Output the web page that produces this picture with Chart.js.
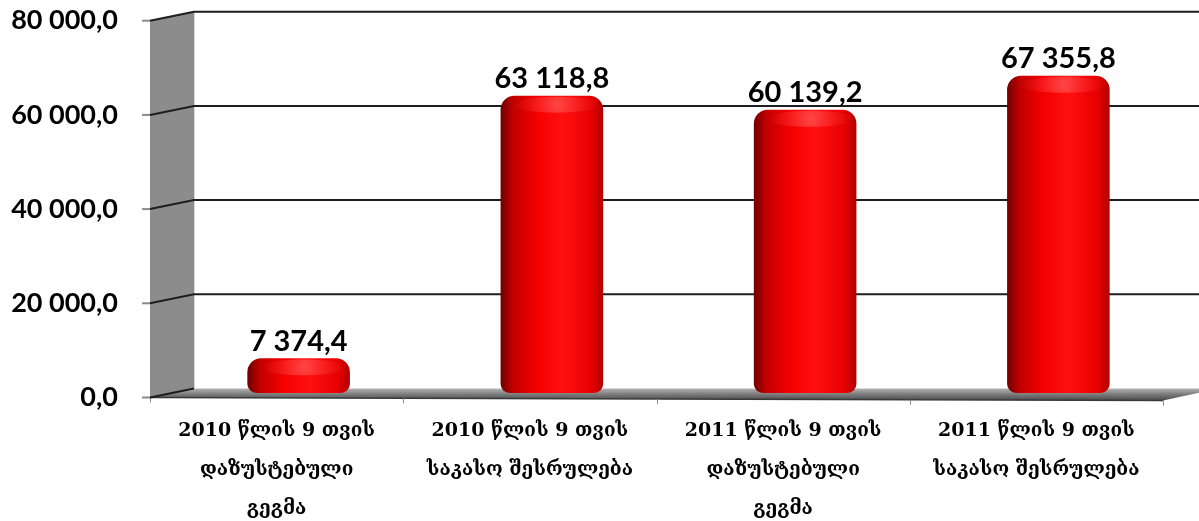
<!DOCTYPE html>
<html lang="ka">
<head>
<meta charset="utf-8">
<title>9 თვის შესრულება</title>
<script src="https://cdn.jsdelivr.net/npm/chart.js@4/dist/chart.umd.min.js"></script>
<style>
    html, body { margin: 0; padding: 0; background: #fff; }
    #wrap { width: 1199px; height: 521px; }
</style>
</head>
<body>
<div id="wrap"><canvas id="budgetChart" width="1199" height="521"></canvas></div>
<script>
// 카테고리 / 값
const categories = [
    ['2010 წლის 9 თვის', 'დაზუსტებული', 'გეგმა'],
    ['2010 წლის 9 თვის', 'საკასო შესრულება'],
    ['2011 წლის 9 თვის', 'დაზუსტებული', 'გეგმა'],
    ['2011 წლის 9 თვის', 'საკასო შესრულება']
];
const values = [7374.4, 63118.8, 60139.2, 67355.8];
const yMin = 0;
const yMax = 80000;
const yStep = 20000;

// 3D depth (half of the wall thickness)
const DEPTH_X = 22;
const DEPTH_Y = 4.5;
const BAR_PCT = 0.405;
const NUM_FONT = '"Lato", "Open Sans", sans-serif';

/**
 * 80 000,0 style number
 */
function formatNum(v) {
    const parts = v.toFixed(1).split('.');
    return parts[0].replace(/\B(?=(\d{3})+(?!\d))/g, ' ') + ',' + parts[1];
}

/**
 * horizontal shading across a bar so it reads as a cylinder
 */
function cylinderFill(context) {
    const chart = context.chart;
    const x = chart.scales.x;
    if (!x || !chart.chartArea) return '#f00000';
    const cx = x.getPixelForValue(context.dataIndex);
    const w = (x.width / categories.length) * BAR_PCT;
    const g = chart.ctx.createLinearGradient(cx - w / 2, 0, cx + w / 2, 0);
    g.addColorStop(0, '#6e0000');
    g.addColorStop(0.12, '#c00000');
    g.addColorStop(0.35, '#f40000');
    g.addColorStop(0.6, '#ff1010');
    g.addColorStop(0.88, '#e80000');
    g.addColorStop(1, '#b00000');
    return g;
}

// wall, floor and back gridlines
const wallPlugin = {
    id: 'wall3d',
    beforeDatasetsDraw(chart) {
        const { ctx, chartArea, scales } = chart;
        const y = scales.y;
        const x = scales.x;
        const fl = chartArea.left - DEPTH_X;   // front-left
        const bl = chartArea.left + DEPTH_X;   // back-left
        const yTop = y.getPixelForValue(yMax);
        const yBot = y.getPixelForValue(yMin);
        ctx.save();

        // left wall
        ctx.fillStyle = '#8c8c8c';
        ctx.beginPath();
        ctx.moveTo(fl, yTop + DEPTH_Y);
        ctx.lineTo(bl, yTop - DEPTH_Y);
        ctx.lineTo(bl, yBot - DEPTH_Y);
        ctx.lineTo(fl, yBot + DEPTH_Y);
        ctx.closePath();
        ctx.fill();
        ctx.strokeStyle = '#d8d8d8';
        ctx.lineWidth = 1;
        ctx.beginPath();
        ctx.moveTo(bl + 0.5, yTop - DEPTH_Y);
        ctx.lineTo(bl + 0.5, yBot - DEPTH_Y);
        ctx.stroke();

        // floor
        const frontRight = x.right - DEPTH_X;
        const g = ctx.createLinearGradient(0, yBot - DEPTH_Y, 0, yBot + DEPTH_Y + 3);
        g.addColorStop(0, '#b4b4b4');
        g.addColorStop(0.5, '#7a7a7a');
        g.addColorStop(1, '#4a4a4a');
        ctx.fillStyle = g;
        ctx.beginPath();
        ctx.moveTo(fl, yBot + DEPTH_Y);
        ctx.lineTo(bl, yBot - DEPTH_Y);
        ctx.lineTo(chart.width + 20, yBot - DEPTH_Y);
        ctx.lineTo(frontRight, yBot + DEPTH_Y + 3);
        ctx.closePath();
        ctx.fill();
        ctx.strokeStyle = '#3a3a3a';
        ctx.lineWidth = 1.5;
        ctx.beginPath();
        ctx.moveTo(fl, yBot + DEPTH_Y);
        ctx.lineTo(frontRight, yBot + DEPTH_Y + 3);
        ctx.stroke();

        // category ticks along the floor edge
        ctx.strokeStyle = '#8a8a8a';
        ctx.lineWidth = 1;
        for (let i = 0; i <= categories.length; i++) {
            const px = x.left + (x.width / categories.length) * i - DEPTH_X;
            const py = yBot + DEPTH_Y + 3 * (i / categories.length);
            ctx.beginPath();
            ctx.moveTo(Math.round(px) + 0.5, py);
            ctx.lineTo(Math.round(px) + 0.5, py + 5);
            ctx.stroke();
        }

        // gridlines: tick on the front, slant over the wall, line on the back
        for (let v = yMin; v <= yMax; v += yStep) {
            const py = y.getPixelForValue(v);
            ctx.strokeStyle = '#8a8a8a';
            ctx.lineWidth = 2;
            ctx.beginPath();
            ctx.moveTo(fl - 8, py + DEPTH_Y);
            ctx.lineTo(fl, py + DEPTH_Y);
            ctx.stroke();
            ctx.strokeStyle = '#1e1e1e';
            ctx.lineWidth = 2;
            ctx.beginPath();
            ctx.moveTo(fl, py + DEPTH_Y);
            ctx.lineTo(bl, py - DEPTH_Y);
            if (v !== yMin) ctx.lineTo(chart.width, py - DEPTH_Y);
            ctx.stroke();
        }
        ctx.restore();
    },
    afterDatasetsDraw(chart) {
        const { ctx } = chart;
        const meta = chart.getDatasetMeta(0);
        ctx.save();
        meta.data.forEach((bar, i) => {
            const w = bar.width;
            // lighter cap on top of the cylinder
            const capY = bar.y + 9;
            const rg = ctx.createRadialGradient(bar.x + w * 0.05, capY, 2, bar.x + w * 0.05, capY, w * 0.42);
            rg.addColorStop(0, 'rgba(255,110,110,0.55)');
            rg.addColorStop(1, 'rgba(255,60,60,0)');
            ctx.fillStyle = rg;
            ctx.beginPath();
            ctx.ellipse(bar.x + w * 0.05, capY, w * 0.42, 8, 0, 0, Math.PI * 2);
            ctx.fill();

            // value label
            ctx.fillStyle = '#000';
            ctx.font = 'bold 29px ' + NUM_FONT;
            ctx.textAlign = 'center';
            ctx.textBaseline = 'middle';
            ctx.fillText(formatNum(values[i]), bar.x, bar.y - 17);
        });
        ctx.restore();
    }
};

function initChart() {
    const ctx = document.getElementById('budgetChart').getContext('2d');
    return new Chart(ctx, {
        type: 'bar',
        data: {
            labels: categories,
            datasets: [{
                data: values,
                backgroundColor: cylinderFill,
                borderWidth: 0,
                borderSkipped: false,
                borderRadius: { topLeft: 14, topRight: 14, bottomLeft: 9, bottomRight: 9 },
                barPercentage: BAR_PCT,
                categoryPercentage: 1
            }]
        },
        options: {
            responsive: false,
            animation: false,
            layout: { padding: { top: 16, right: 14, bottom: 0, left: 0 } },
            plugins: {
                legend: { display: false },
                tooltip: { enabled: false }
            },
            scales: {
                x: {
                    grid: { display: false, drawTicks: false },
                    border: { display: false },
                    afterFit(scale) { scale.height = 128; },
                    ticks: {
                        color: '#000',
                        padding: 19,
                        labelOffset: -DEPTH_X,
                        maxRotation: 0,
                        autoSkip: false,
                        font: { family: '"DejaVu Serif", "DejaVu Sans", serif', size: 19, weight: 'bold', lineHeight: 2.05 }
                    }
                },
                y: {
                    min: yMin,
                    max: yMax,
                    // tick length (not drawn) keeps the labels clear of the wall
                    grid: { display: false, drawTicks: true, tickLength: 54 },
                    border: { display: false },
                    afterFit(scale) { scale.width = 172; },
                    ticks: {
                        stepSize: yStep,
                        color: '#000',
                        padding: 0,
                        labelOffset: DEPTH_Y,
                        font: { family: NUM_FONT, size: 27, weight: 'bold' },
                        callback: (v) => formatNum(v)
                    }
                }
            }
        },
        plugins: [wallPlugin]
    });
}

document.addEventListener('DOMContentLoaded', initChart);
</script>
</body>
</html>
